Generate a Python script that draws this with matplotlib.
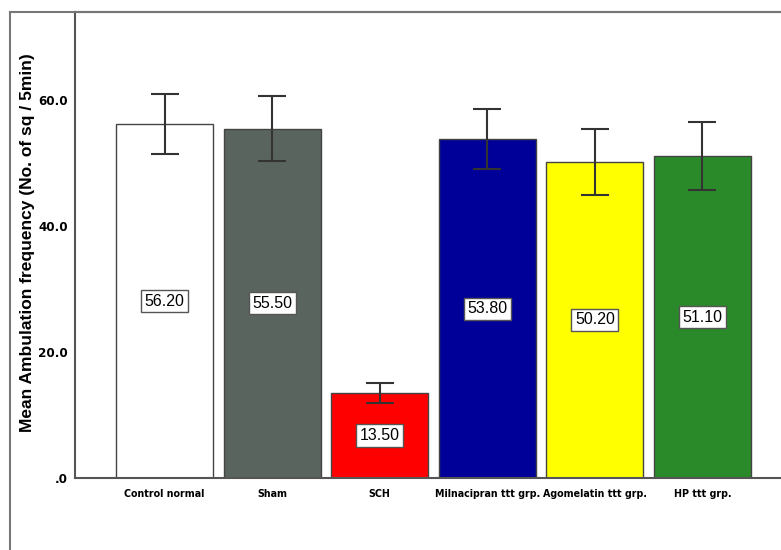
import matplotlib
matplotlib.use("Agg")
import matplotlib.pyplot as plt
from matplotlib.lines import Line2D

categories = ["Control normal", "Sham", "SCH", "Milnacipran ttt grp.", "Agomelatin ttt grp.", "HP ttt grp."]
means = [56.20, 55.50, 13.50, 53.80, 50.20, 51.10]
errors = [4.7, 5.2, 1.6, 4.8, 5.2, 5.4]
colors = ["#ffffff", "#5a645e", "#ff0000", "#000099", "#ffff00", "#2a8a2a"]
yticks = [0, 20, 40, 60]
ytick_labels = [".0", "20.0", "40.0", "60.0"]
ylabel = "Mean Ambulation frequency (No. of sq / 5min)"

fig = plt.figure(figsize=(7.81, 5.5), dpi=100)
ax = fig.add_axes([75/781, (550-478)/550, 1 - 75/781, (478-12)/550])

x = list(range(len(categories)))
ax.bar(x, means, width=0.9, color=colors, edgecolor="#444444", linewidth=1.0, zorder=2)
ax.errorbar(x, means, yerr=errors, fmt="none", ecolor="#333333", elinewidth=1.5,
            capsize=10, capthick=1.5, zorder=3)

for xi, m in zip(x, means):
    ax.text(xi, m / 2, f"{m:.2f}", ha="center", va="center", fontsize=11.5, family="Liberation Sans",
            bbox=dict(boxstyle="square,pad=0.22", facecolor="white", edgecolor="#555555", linewidth=1.0),
            zorder=4)

ax.set_xlim(-0.832, 5.73)
ax.set_ylim(0, 74)
ax.set_yticks(yticks)
ax.set_yticklabels(ytick_labels, family="DejaVu Sans", fontstretch="condensed",
                   fontweight="bold", fontsize=9.5)
ax.set_xticks(x)
ax.set_xticklabels(categories, family="DejaVu Sans", fontstretch="condensed",
                   fontweight="bold", fontsize=7.7)
ax.tick_params(axis="both", length=0)
ax.tick_params(axis="y", pad=5)
ax.tick_params(axis="x", pad=8)
ax.set_ylabel(ylabel, family="Liberation Sans", fontweight="bold", fontsize=12.5)
ax.yaxis.set_label_coords(-0.056, 0.505)

for s in ["left", "bottom", "top"]:
    ax.spines[s].set_color("#555555")
    ax.spines[s].set_linewidth(1.5)
ax.spines["right"].set_visible(False)

# outer frame
fig.add_artist(Line2D([10/781, 10/781], [0, (550-12)/550], transform=fig.transFigure,
                      color="#777777", linewidth=1.5))
fig.add_artist(Line2D([10/781, 1], [(550-12)/550, (550-12)/550], transform=fig.transFigure,
                      color="#777777", linewidth=1.5))

fig.savefig("out.png", dpi=100)
